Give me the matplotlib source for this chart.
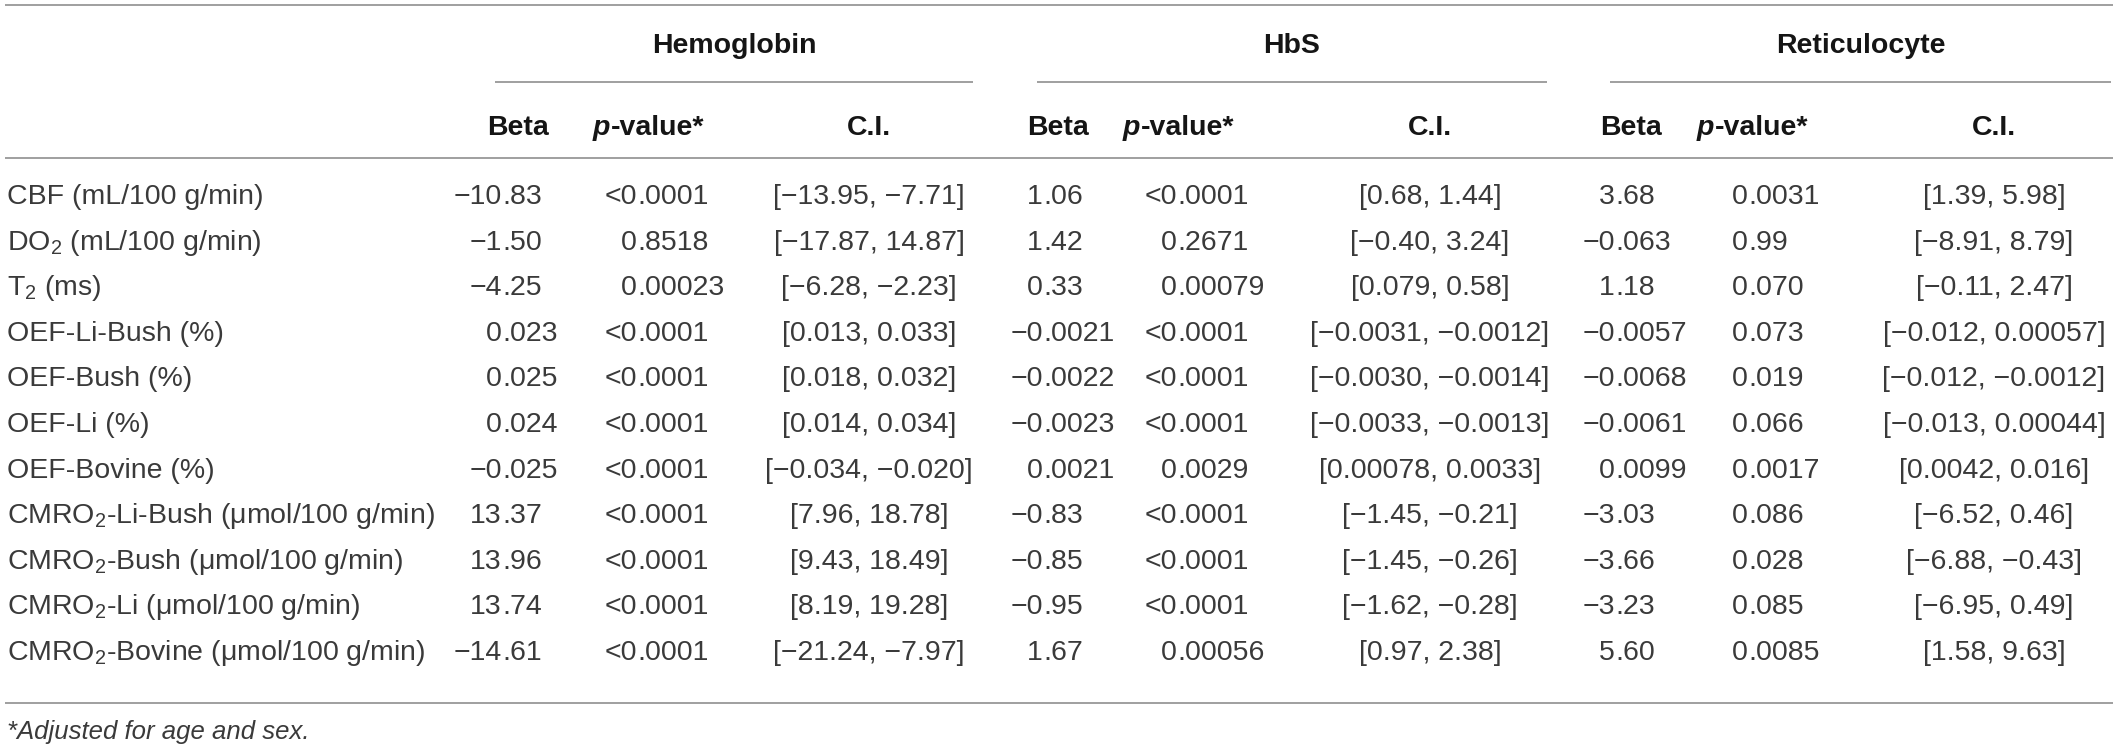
import matplotlib
matplotlib.use("Agg")
import matplotlib.pyplot as plt

plt.rcParams['font.family'] = ['Liberation Sans', 'DejaVu Sans']
plt.rcParams['mathtext.fontset'] = 'custom'
plt.rcParams['mathtext.rm'] = 'Liberation Sans'
plt.rcParams['mathtext.it'] = 'Liberation Sans:italic'
plt.rcParams['mathtext.bf'] = 'Liberation Sans:bold'

# ---------------- data ----------------
groups = ["Hemoglobin", "HbS", "Reticulocyte"]
sub_headers = ["Beta", "p-value*", "C.I."]
row_labels = [
    "CBF (mL/100 g/min)",
    "DO$_2$ (mL/100 g/min)",
    "T$_2$ (ms)",
    "OEF-Li-Bush (%)",
    "OEF-Bush (%)",
    "OEF-Li (%)",
    "OEF-Bovine (%)",
    "CMRO$_2$-Li-Bush (μmol/100 g/min)",
    "CMRO$_2$-Bush (μmol/100 g/min)",
    "CMRO$_2$-Li (μmol/100 g/min)",
    "CMRO$_2$-Bovine (μmol/100 g/min)",
]
hemo_beta = ["−10.83", "−1.50", "−4.25", "0.023", "0.025", "0.024", "−0.025",
             "13.37", "13.96", "13.74", "−14.61"]
hemo_p = ["<0.0001", "0.8518", "0.00023", "<0.0001", "<0.0001", "<0.0001",
          "<0.0001", "<0.0001", "<0.0001", "<0.0001", "<0.0001"]
hemo_ci = ["[−13.95, −7.71]", "[−17.87, 14.87]", "[−6.28, −2.23]", "[0.013, 0.033]",
           "[0.018, 0.032]", "[0.014, 0.034]", "[−0.034, −0.020]", "[7.96, 18.78]",
           "[9.43, 18.49]", "[8.19, 19.28]", "[−21.24, −7.97]"]
hbs_beta = ["1.06", "1.42", "0.33", "−0.0021", "−0.0022", "−0.0023", "0.0021",
            "−0.83", "−0.85", "−0.95", "1.67"]
hbs_p = ["<0.0001", "0.2671", "0.00079", "<0.0001", "<0.0001", "<0.0001",
         "0.0029", "<0.0001", "<0.0001", "<0.0001", "0.00056"]
hbs_ci = ["[0.68, 1.44]", "[−0.40, 3.24]", "[0.079, 0.58]", "[−0.0031, −0.0012]",
          "[−0.0030, −0.0014]", "[−0.0033, −0.0013]", "[0.00078, 0.0033]",
          "[−1.45, −0.21]", "[−1.45, −0.26]", "[−1.62, −0.28]", "[0.97, 2.38]"]
ret_beta = ["3.68", "−0.063", "1.18", "−0.0057", "−0.0068", "−0.0061", "0.0099",
            "−3.03", "−3.66", "−3.23", "5.60"]
ret_p = ["0.0031", "0.99", "0.070", "0.073", "0.019", "0.066", "0.0017",
         "0.086", "0.028", "0.085", "0.0085"]
ret_ci = ["[1.39, 5.98]", "[−8.91, 8.79]", "[−0.11, 2.47]", "[−0.012, 0.00057]",
          "[−0.012, −0.0012]", "[−0.013, 0.00044]", "[0.0042, 0.016]",
          "[−6.52, 0.46]", "[−6.88, −0.43]", "[−6.95, 0.49]", "[1.58, 9.63]"]
footnote = "*Adjusted for age and sex."

group_data = [(hemo_beta, hemo_p, hemo_ci), (hbs_beta, hbs_p, hbs_ci),
              (ret_beta, ret_p, ret_ci)]

# ---------------- layout (pixels) ----------------
W, H = 2118, 751
FS = 20.5
BODY = '#3a3a3a'
HEAD = '#151515'
LINE = '#8f8f8f'

group_spans = [(495, 973), (1037, 1547), (1610, 2111)]
beta_dec = [502, 1043, 1615]
p_dec = [637, 1177, 1748]
ci_center = [869, 1430, 1994]
beta_head = [518, 1058, 1631]
p_head = [648, 1178, 1752]

y_topline = 5
y_group = 43
y_groupline = 82
y_sub = 125
y_subline = 158
y_row0 = 194
row_step = 45.6
y_botline = 703
y_foot = 730
cap_half = 10

fig = plt.figure(figsize=(W / 100, H / 100), dpi=100)
ax = fig.add_axes([0, 0, 1, 1])
ax.set_xlim(0, W)
ax.set_ylim(H, 0)
ax.axis('off')
renderer = fig.canvas.get_renderer()


def hline(y, x0=5, x1=2113, lw=1.2):
    ax.plot([x0, x1], [y, y], color=LINE, lw=lw, solid_capstyle='butt')


def dec_text(x, y, s):
    i = s.find('.')
    ax.text(x, y, s[:i], ha='right', va='baseline', fontsize=FS, color=BODY)
    ax.text(x, y, s[i:], ha='left', va='baseline', fontsize=FS, color=BODY)


def p_header(xc, y):
    t1 = ax.text(0, y, 'p', style='italic', weight='bold', fontsize=FS,
                 color=HEAD, ha='left', va='baseline')
    t2 = ax.text(0, y, '-value*', weight='bold', fontsize=FS,
                 color=HEAD, ha='left', va='baseline')
    w1 = t1.get_window_extent(renderer).width
    w2 = t2.get_window_extent(renderer).width
    x0 = xc - (w1 + w2) / 2
    t1.set_x(x0)
    t2.set_x(x0 + w1 + 1)


# lines
hline(y_topline)
for (a, b) in group_spans:
    hline(y_groupline, a, b)
hline(y_subline)
hline(y_botline)

# group headers
for g, (a, b) in zip(groups, group_spans):
    ax.text((a + b) / 2, y_group + cap_half, g, ha='center', va='baseline',
            fontsize=FS, weight='bold', color=HEAD)

# sub headers
for k in range(3):
    ax.text(beta_head[k], y_sub + cap_half, sub_headers[0], ha='center',
            va='baseline', fontsize=FS, weight='bold', color=HEAD)
    p_header(p_head[k], y_sub + cap_half)
    ax.text(ci_center[k], y_sub + cap_half, sub_headers[2], ha='center',
            va='baseline', fontsize=FS, weight='bold', color=HEAD)

# rows
for r, lab in enumerate(row_labels):
    yb = y_row0 + r * row_step + cap_half
    ax.text(7, yb, lab, ha='left', va='baseline', fontsize=FS, color=BODY)
    for k, (betas, ps, cis) in enumerate(group_data):
        dec_text(beta_dec[k], yb, betas[r])
        dec_text(p_dec[k], yb, ps[r])
        ax.text(ci_center[k], yb, cis[r], ha='center', va='baseline',
                fontsize=FS, color=BODY)

# footnote
ax.text(7, y_foot + 9, footnote, ha='left', va='baseline', fontsize=18.5,
        style='italic', color=BODY)

fig.savefig('out.png', dpi=100)
